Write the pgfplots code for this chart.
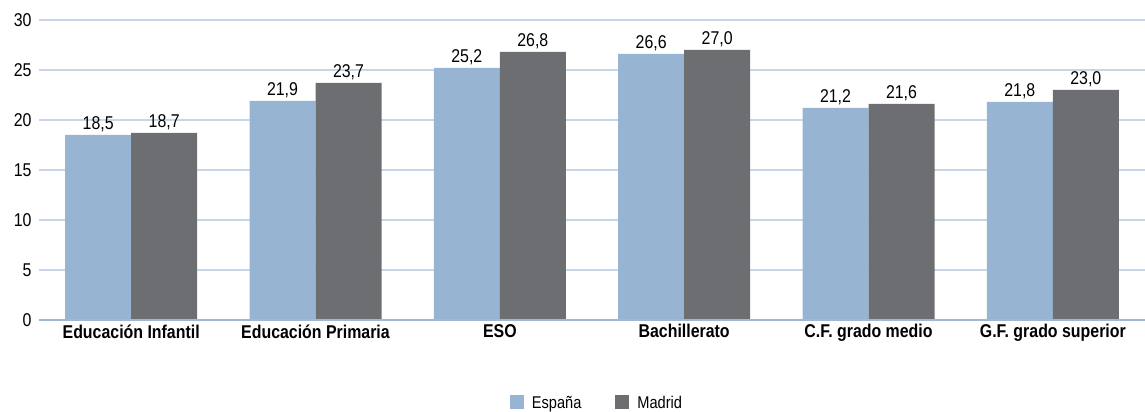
\documentclass[border=0pt]{standalone}
\usepackage{pgfplots}
\pgfplotsset{compat=1.18}
\usepackage{fontspec}
\setmainfont{Liberation Sans}[FakeStretch=0.86]
\definecolor{espana}{HTML}{97B4D3}
\definecolor{madrid}{HTML}{6D6E72}
\definecolor{gridc}{HTML}{C8D7E8}
\definecolor{basec}{HTML}{A3B8D0}
\begin{document}
\begin{tikzpicture}
\begin{axis}[
  scale only axis, width=1106pt, height=300pt,
  xmin=-0.5, xmax=5.5, ymin=0, ymax=30,
  ybar=0pt, bar width=66pt,
  axis line style={draw=none},
  major tick length=0pt,
  ytick={0,5,...,30},
  ymajorgrids, grid style={gridc, line width=1.2pt},
  xtick=data,
  xticklabels={Educación Infantil, Educación Primaria, ESO, Bachillerato, C.F. grado medio, G.F. grado superior},
  x tick label style={font=\bfseries\fontsize{18.5}{20}\selectfont, yshift=-1pt},
  y tick label style={font=\fontsize{18.5}{20}\selectfont, xshift=-4pt},
  /pgf/number format/assume math mode=true,
  nodes near coords={\pgfmathprintnumber[fixed,fixed zerofill,precision=1,use comma]{\pgfplotspointmeta}},
  every node near coord/.append style={font=\fontsize{18.5}{20}\selectfont, text=black},
  legend style={at={(0.5045,-0.277)}, anchor=center, draw=none, legend columns=2,
    font=\fontsize{17}{18}\selectfont,
    /tikz/column 2/.style={column sep=32pt},
    /tikz/every odd column/.append style={column sep=6pt}},
  legend image code/.code={\fill[#1] (0pt,-6pt) rectangle (14pt,8pt);},
]
\addplot[fill=espana, draw=none] coordinates {(0,18.5) (1,21.9) (2,25.2) (3,26.6) (4,21.2) (5,21.8)};
\addplot[fill=madrid, draw=none] coordinates {(0,18.7) (1,23.7) (2,26.8) (3,27.0) (4,21.6) (5,23.0)};
\legend{España, Madrid}
\draw[basec, line width=1.4pt] (axis cs:-0.5,0) -- (axis cs:5.5,0);
\end{axis}
\pgfresetboundingbox
\path ([shift={(-39pt,-91pt)}]current axis.south west) rectangle ([shift={(0pt,20pt)}]current axis.north east);
\end{tikzpicture}
\end{document}
